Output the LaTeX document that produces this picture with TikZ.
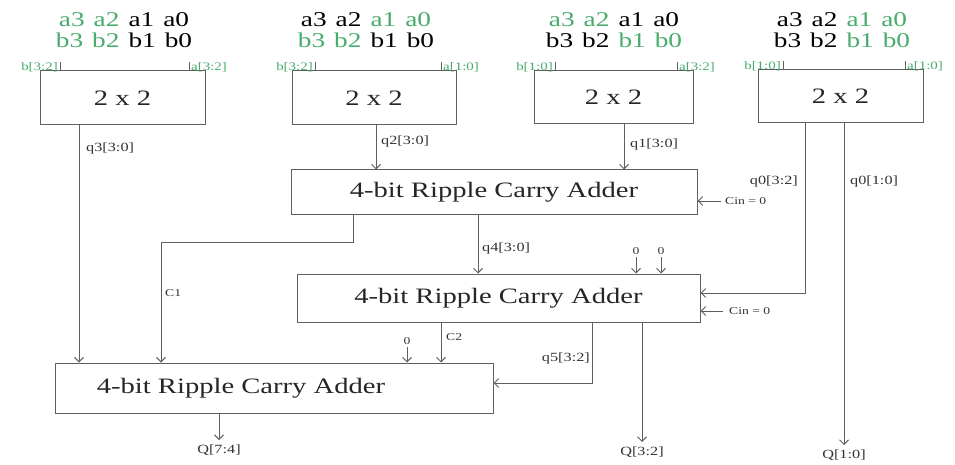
\documentclass[tikz,border=0pt]{standalone}
\usepackage{fontspec}
\setmainfont{Liberation Serif}[FakeStretch=1.3]
\usetikzlibrary{arrows.meta}
\definecolor{gr}{RGB}{72,172,108}
\definecolor{ln}{RGB}{95,95,95}
\newcommand\gp{\hspace{9pt}}
\newcommand\G[1]{\textcolor{gr}{#1}}
\begin{document}
\begin{tikzpicture}[x=1pt,y=-1pt,
  blk/.style={draw=ln,line width=1pt,inner sep=0pt},
  wire/.style={draw=ln,line width=1pt},
  arr/.style={wire,-{Straight Barb[length=4.5pt,width=9pt]}},
  bigtxt/.style={font=\fontsize{22}{22}\selectfont,text=black!85},
  toptxt/.style={font=\fontsize{21}{21}\selectfont,align=center,inner sep=0pt},
  sig/.style={font=\fontsize{12.5}{12.5}\selectfont,text=black!80,inner sep=0pt},
  pin/.style={font=\fontsize{11.5}{11.5}\selectfont,text=gr,inner sep=0pt},
  small/.style={font=\fontsize{10.5}{10.5}\selectfont,text=black!80,inner sep=0pt}]
\useasboundingbox[fill=white] (0,0) rectangle (955,465);

% 2x2 multipliers
\node[blk,minimum width=165pt,minimum height=54pt,bigtxt] (m1) at (122.5,98) {2 x 2};
\node[blk,minimum width=164pt,minimum height=54pt,bigtxt] (m2) at (374,98) {2 x 2};
\node[blk,minimum width=159pt,minimum height=53pt,bigtxt] (m3) at (613.5,97.5) {2 x 2};
\node[blk,minimum width=165pt,minimum height=53pt,bigtxt] (m4) at (840.5,96.5) {2 x 2};

% adders
\node[blk,minimum width=406pt,minimum height=44pt,bigtxt] (r1) at (494,192) {4-bit Ripple Carry Adder};
\node[blk,minimum width=403pt,minimum height=48pt,bigtxt] (r2) at (498.5,298) {4-bit Ripple Carry Adder};
\node[blk,minimum width=438pt,minimum height=50pt] (r3) at (274,388) {};
\node[bigtxt] (r3t) at (241,388) {4-bit Ripple Carry Adder};

% top operand labels
\node[toptxt] (t1) at (124,30.5) {\G{a3}\gp\G{a2}\gp a1\gp a0\\\G{b3}\gp\G{b2}\gp b1\gp b0};
\node[toptxt] (t2) at (366,30.5) {a3\gp a2\gp\G{a1}\gp\G{a0}\\\G{b3}\gp\G{b2}\gp b1\gp b0};
\node[toptxt] (t3) at (614,30.5) {\G{a3}\gp\G{a2}\gp a1\gp a0\\b3\gp b2\gp\G{b1}\gp\G{b0}};
\node[toptxt] (t4) at (842,30.5) {a3\gp a2\gp\G{a1}\gp\G{a0}\\b3\gp b2\gp\G{b1}\gp\G{b0}};

% input pins
\coordinate (p1b) at (60,62);  \coordinate (p1a) at (189,62);
\coordinate (p2b) at (315,62); \coordinate (p2a) at (441,62);
\coordinate (p3b) at (555,62); \coordinate (p3a) at (677,62);
\coordinate (p4b) at (783,61); \coordinate (p4a) at (905,61);
\foreach \p/\m in {p1b/m1,p1a/m1,p2b/m2,p2a/m2,p3b/m3,p3a/m3,p4b/m4,p4a/m4}
  \draw[wire] (\p) -- (\p |- \m.north);
\node[pin,anchor=north east] (l1b) at ([xshift=-2pt]p1b) {b[3:2]};
\node[pin,anchor=north west] (l1a) at ([xshift=2pt]p1a) {a[3:2]};
\node[pin,anchor=north east] (l2b) at ([xshift=-2pt]p2b) {b[3:2]};
\node[pin,anchor=north west] (l2a) at ([xshift=2pt]p2a) {a[1:0]};
\node[pin,anchor=north east] (l3b) at ([xshift=-2pt]p3b) {b[1:0]};
\node[pin,anchor=north west] (l3a) at ([xshift=2pt]p3a) {a[3:2]};
\node[pin,anchor=north east] (l4b) at ([xshift=-2pt]p4b) {b[1:0]};
\node[pin,anchor=north west] (l4a) at ([xshift=2pt]p4a) {a[1:0]};

% multiplier outputs
\coordinate (x3) at (79,0);
\draw[arr] (m1.south -| x3) -- (r3.north -| x3);
\node[sig,anchor=west] (lq3) at (86,148) {q3[3:0]};
\coordinate (x2) at (376,0);
\draw[arr] (m2.south -| x2) -- (r1.north -| x2);
\node[sig,anchor=west] (lq2) at (381,141) {q2[3:0]};
\coordinate (x1) at (624,0);
\draw[arr] (m3.south -| x1) -- (r1.north -| x1);
\node[sig,anchor=west] (lq1) at (630,144) {q1[3:0]};
\coordinate (k1) at (805,293);
\draw[arr] (m4.south -| k1) -- (k1) -- (r2.east |- k1);
\node[sig,anchor=east] (lq0h) at (798,181) {q0[3:2]};
\coordinate (k2) at (844,445);
\draw[arr] (m4.south -| k2) -- (k2);
\node[sig,anchor=west] (lq0l) at (850,181) {q0[1:0]};
\node[sig,anchor=north] (oQ10) at ([yshift=-5pt]k2) {Q[1:0]};

% carry-ins
\coordinate (cin1) at (721,201);
\draw[arr] (cin1) -- (r1.east |- cin1);
\node[small,anchor=west] (lcin1) at (725,201) {Cin = 0};
\coordinate (cin2) at (723,311);
\draw[arr] (cin2) -- (r2.east |- cin2);
\node[small,anchor=west] (lcin2) at (729,311) {Cin = 0};

% first adder outputs
\coordinate (c1a) at (353,242); \coordinate (c1b) at (161,242);
\draw[arr] (r1.south -| c1a) -- (c1a) -- (c1b) -- (r3.north -| c1b);
\node[small,anchor=west] (lc1) at (165,293) {C1};
\coordinate (x4) at (478,0);
\draw[arr] (r1.south -| x4) -- (r2.north -| x4);
\node[sig,anchor=west] (lq4) at (482,248) {q4[3:0]};

% zeros into second adder
\coordinate (z1) at (636,257); \coordinate (z2) at (661,257);
\draw[arr] (z1) -- (r2.north -| z1);
\draw[arr] (z2) -- (r2.north -| z2);
\node[small,anchor=south] (lz1) at ([yshift=2pt]z1) {0};
\node[small,anchor=south] (lz2) at ([yshift=2pt]z2) {0};

% second adder outputs
\coordinate (x5) at (441,0);
\draw[arr] (r2.south -| x5) -- (r3.north -| x5);
\node[small,anchor=west] (lc2) at (446,337) {C2};
\coordinate (z3) at (407,347);
\draw[arr] (z3) -- (r3.north -| z3);
\node[small,anchor=south] (lz3) at ([yshift=2pt]z3) {0};
\coordinate (k3) at (592,383);
\draw[arr] (r2.south -| k3) -- (k3) -- (r3.east |- k3);
\node[sig,anchor=east] (lq5) at (590,358) {q5[3:2]};
\coordinate (k4) at (642,442);
\draw[arr] (r2.south -| k4) -- (k4);
\node[sig,anchor=north] (oQ32) at ([yshift=-5pt]k4) {Q[3:2]};

% third adder output
\coordinate (k5) at (219,440);
\draw[arr] (r3.south -| k5) -- (k5);
\node[sig,anchor=north] (oQ74) at ([yshift=-5pt]k5) {Q[7:4]};
\end{tikzpicture}
\end{document}
